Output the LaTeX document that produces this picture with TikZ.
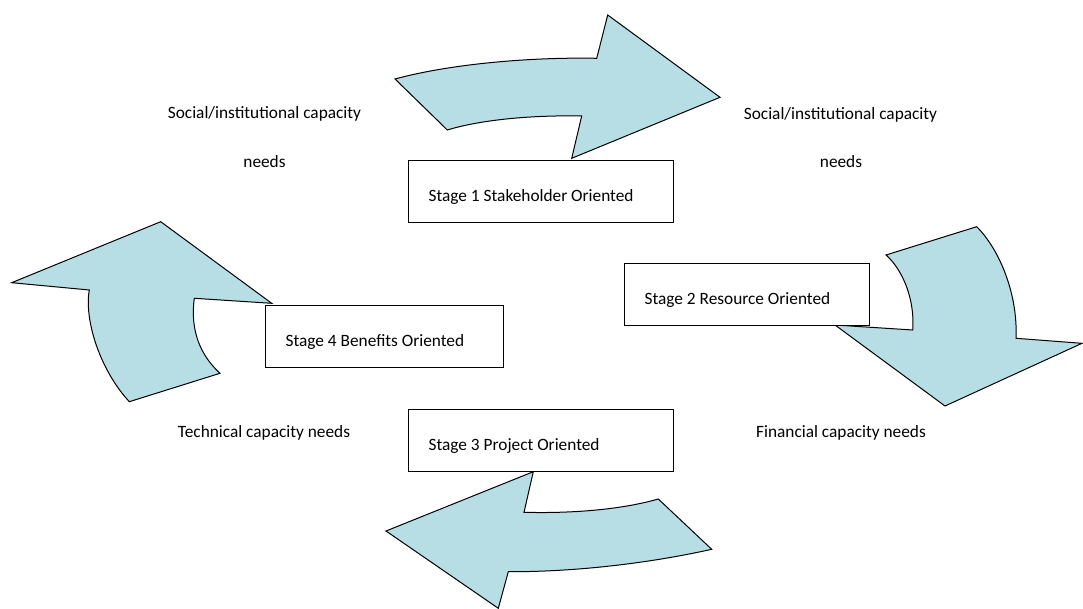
\documentclass[tikz,border=0pt]{standalone}
\usepackage{fontspec}
\setmainfont{Carlito}
\usepackage{tikz}
\definecolor{arrowblue}{RGB}{183,222,228}

\begin{document}
\begin{tikzpicture}[x=1pt,y=-1pt]
\tikzstyle{every node}+=[inner sep=0pt,font=\fontsize{17.3}{20}\selectfont]
\tikzstyle{stagebox}=[draw=black,line width=1.3pt,fill=white,anchor=north west,align=flush left,inner xsep=20pt,minimum height=62pt,text height=22pt,text depth=2pt]
\tikzstyle{cyclearrow}=[draw=black,line width=1pt,fill=arrowblue,line join=miter]
\useasboundingbox (0,0) rectangle (1083,609);
\draw [cyclearrow] (395,79) -- (447.3,130) .. controls (480,120) and (530,115) .. (581.7,116) -- (571.7,158.3) -- (720,97.3) -- (607.7,15) -- (596.7,58.3) .. controls (530,57) and (450,64) .. (395,79) -- cycle;
\draw [cyclearrow] (11.7,282.7) -- (160.7,221.7) -- (271.7,303.3) -- (194.3,298.3) .. controls (190,330) and (200,355) .. (220,373.3) -- (129.3,401.7) .. controls (100,370) and (84,320) .. (89.3,290) -- cycle;
\draw [cyclearrow] (976.7,226.7) -- (886,255) .. controls (903,270) and (915,300) .. (912.7,330) -- (835,325) -- (945,406) -- (1082,343.3) -- (1016,338.3) .. controls (1018,295) and (1000,250) .. (976.7,226.7) -- cycle;
\draw [cyclearrow] (533.3,471.7) -- (524,512.3) .. controls (570,513.5) and (620,510) .. (658.3,499) -- (711.7,549.3) .. controls (655,562) and (580,572) .. (508.3,571.7) -- (498.3,608.3) -- (386,531) -- cycle;
\node [stagebox,text width=225pt] (stage1) at (408,160) {Stage 1 Stakeholder Oriented};
\node [stagebox,text width=205pt] (stage2) at (624,263) {Stage 2 Resource Oriented};
\node [stagebox,text width=225pt] (stage3) at (408,408.5) {Stage 3 Project Oriented};
\node [stagebox,text width=198pt] (stage4) at (265,305) {Stage 4 Benefits Oriented};
\node (socl) at (264.5,114) {Social/institutional capacity};
\node (socl-needs) at (264.5,162) {needs};
\node (socr) at (840.5,115) {Social/institutional capacity};
\node (socr-needs) at (841,162) {needs};
\node (tech) at (264,432.5) {Technical capacity needs};
\node (fin) at (841,432.5) {Financial capacity needs};
\end{tikzpicture}
\end{document}
